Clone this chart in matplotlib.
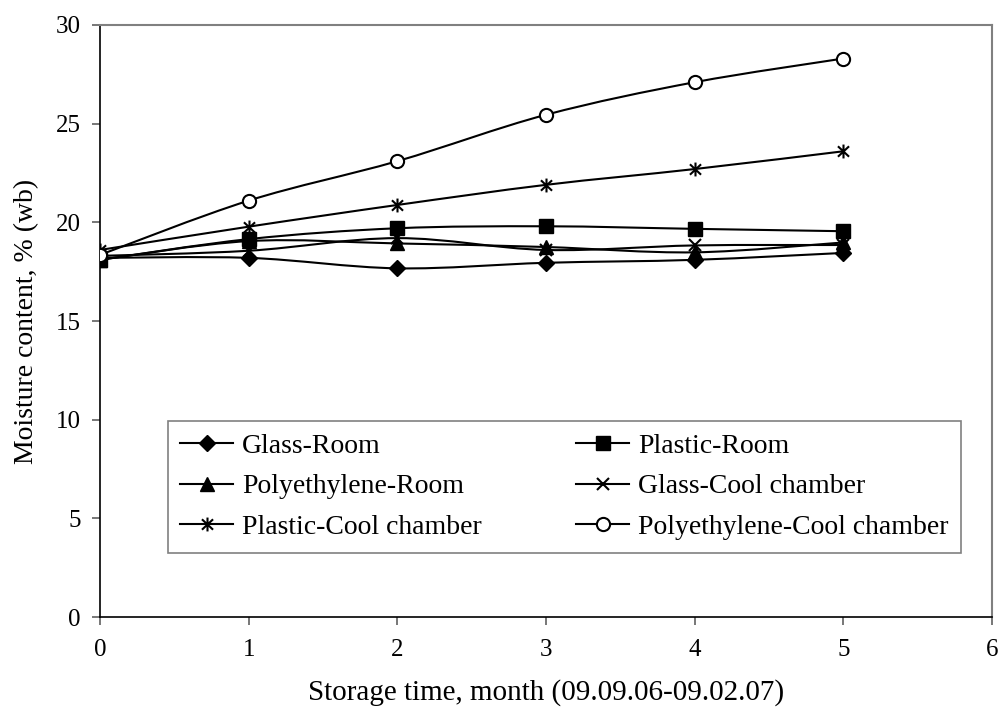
import numpy as np
import matplotlib.pyplot as plt
from matplotlib.path import Path
from matplotlib.patches import PathPatch
from matplotlib.lines import Line2D

plt.rcParams['font.family'] = ['Liberation Serif', 'DejaVu Serif']

# Storage time (months) and moisture content (% wb) per treatment
months = [0, 1, 2, 3, 4, 5]
glass_room = [18.2, 18.2, 17.67, 17.95, 18.1, 18.45]
plastic_room = [18.1, 19.15, 19.7, 19.8, 19.67, 19.55]
poly_room = [18.1, 19.05, 18.93, 18.75, 18.48, 18.98]
glass_cool = [18.3, 18.56, 19.2, 18.6, 18.83, 18.85]
plastic_cool = [18.6, 19.78, 20.88, 21.9, 22.7, 23.6]
poly_cool = [18.35, 21.1, 23.1, 25.45, 27.1, 28.3]

labels = ['Glass-Room', 'Plastic-Room', 'Polyethylene-Room',
          'Glass-Cool chamber', 'Plastic-Cool chamber', 'Polyethylene-Cool chamber']
series = [glass_room, plastic_room, poly_room, glass_cool, plastic_cool, poly_cool]

# Excel-like asterisk marker: vertical bar plus two diagonals
asterisk = Path([(0, -1), (0, 1), (-0.8, -0.75), (0.8, 0.75), (-0.8, 0.75), (0.8, -0.75)],
                [Path.MOVETO, Path.LINETO] * 3)

styles = [
    dict(marker='D', ms=8, mfc='black'),
    dict(marker='s', ms=9.5, mfc='black'),
    dict(marker='^', ms=9.5, mfc='black'),
    dict(marker='x', ms=9, mfc='black', mew=1.5),
    dict(marker=asterisk, ms=10, mfc='black', mew=1.5),
    dict(marker='o', ms=9.5, mfc='white', mew=1.5),
]


def smooth_path(x, y):
    # Catmull-Rom style bezier segments (like Excel's smoothed lines)
    pts = np.column_stack([x, y]).astype(float)
    ext = np.vstack([pts[0], pts, pts[-1]])
    verts = [pts[0]]
    codes = [Path.MOVETO]
    for i in range(len(pts) - 1):
        p0, p1, p2, p3 = ext[i], ext[i + 1], ext[i + 2], ext[i + 3]
        verts += [p1 + (p2 - p0) / 6, p2 - (p3 - p1) / 6, p2]
        codes += [Path.CURVE4] * 3
    return Path(verts, codes)


fig = plt.figure(figsize=(10.04, 7.2), dpi=100)
ax = fig.add_axes([0.0996, 0.143, 0.8884, 0.8223])

handles = []
for vals, lab, st in zip(series, labels, styles):
    ax.add_patch(PathPatch(smooth_path(months, vals), fill=False, ec='black', lw=1.5, zorder=2))
    ax.plot(months, vals, ls='none', color='black', mec='black', zorder=3, **st)
    handles.append(Line2D([], [], color='black', lw=1.5, **st))

ax.set_xlim(0, 6)
ax.set_ylim(0, 30)
ax.set_xticks(range(0, 7))
ax.set_yticks(range(0, 31, 5))

for side in ['top', 'right']:
    ax.spines[side].set_color('#808080')
    ax.spines[side].set_linewidth(1.5)
for side in ['left', 'bottom']:
    ax.spines[side].set_color('black')
    ax.spines[side].set_linewidth(1.2)
ax.tick_params(direction='out', length=6, width=1.2, color='#606060', labelsize=18)
ax.tick_params(axis='x', pad=10)
ax.tick_params(axis='y', pad=8)

ax.set_xlabel('Storage time, month (09.09.06-09.02.07)', fontsize=21, labelpad=13)
ax.set_ylabel('Moisture content, % (wb)', fontsize=20, labelpad=12)

# row-major order like the original legend
order = [0, 2, 4, 1, 3, 5]
leg = ax.legend([handles[i] for i in order], [labels[i] for i in order], ncol=2,
                loc='upper left', bbox_to_anchor=(0.076, 0.3316), borderaxespad=0,
                fontsize=20, handlelength=1.9, handletextpad=0.32,
                labelspacing=0.55, columnspacing=3.4, borderpad=0.45,
                fancybox=False, framealpha=1, edgecolor='#808080')
leg.get_frame().set_linewidth(1.2)

fig.savefig('out.png', dpi=100)
